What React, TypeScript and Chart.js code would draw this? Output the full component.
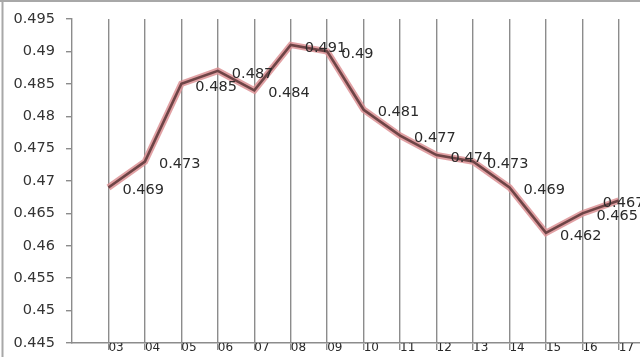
import React, { useEffect, useRef } from "react";
import { Chart, registerables } from "chart.js";

Chart.register(...registerables);

const xValues = [3, 4, 5, 6, 7, 8, 9, 10, 11, 12, 13, 14, 15, 16, 17];
const xLabels = ["03", "04", "05", "06", "07", "08", "09", "10", "11", "12", "13", "14", "15", "16", "17"];
const seriesValues = [0.469, 0.473, 0.485, 0.487, 0.484, 0.491, 0.49, 0.481, 0.477, 0.474, 0.473, 0.469, 0.462, 0.465, 0.467];
const yTickValues = [0.445, 0.45, 0.455, 0.46, 0.465, 0.47, 0.475, 0.48, 0.485, 0.49, 0.495];
const yTickLabels = ["0.445", "0.45", "0.455", "0.46", "0.465", "0.47", "0.475", "0.48", "0.485", "0.49", "0.495"];

const GRID = "#8c8c8c";

const framePlugin = {
  id: "frame",
  beforeDraw(chart: any) {
    const { ctx, width, height } = chart;
    ctx.save();
    ctx.fillStyle = "#ffffff";
    ctx.fillRect(0, 0, width, height);
    ctx.strokeStyle = "#a8a8a8";
    ctx.lineWidth = 2;
    ctx.beginPath();
    ctx.moveTo(0, 1);
    ctx.lineTo(width, 1);
    ctx.moveTo(2.5, 0);
    ctx.lineTo(2.5, height);
    ctx.stroke();
    ctx.restore();
  },
};

const valueLabelPlugin = {
  id: "valueLabels",
  afterDatasetsDraw(chart: any) {
    const { ctx } = chart;
    const meta = chart.getDatasetMeta(0);
    ctx.save();
    ctx.font = "14.5px 'DejaVu Sans'";
    ctx.fillStyle = "#2a2a2a";
    ctx.textBaseline = "middle";
    ctx.textAlign = "left";
    meta.data.forEach((pt: any, i: number) => {
      const v = seriesValues[i];
      const txt = String(v);
      let x = pt.x + 14;
      if (i === seriesValues.length - 1) x = pt.x - 16;
      ctx.fillText(txt, x, pt.y + 3);
    });
    ctx.restore();
  },
};

export default function App() {
  const ref = useRef<HTMLCanvasElement>(null);
  useEffect(() => {
    document.body.style.margin = "0";
    const data = xValues.map((x, i) => ({ x, y: seriesValues[i] }));
    const chart = new Chart(ref.current as HTMLCanvasElement, {
      type: "line",
      data: {
        datasets: [
          {
            data,
            borderColor: "#6e4446",
            borderWidth: 2.6,
            pointRadius: 0,
            tension: 0,
          },
          {
            data,
            borderColor: "rgba(220,145,148,0.85)",
            borderWidth: 6.5,
            pointRadius: 0,
            tension: 0,
          },
        ],
      },
      options: {
        animation: false,
        responsive: false,
        events: [],
        layout: { padding: { top: 19, right: 0, bottom: 0, left: 0 } },
        plugins: {
          legend: { display: false },
          tooltip: { enabled: false },
        },
        scales: {
          x: {
            type: "linear",
            min: 2,
            max: 17.58,
            afterBuildTicks: (scale: any) => {
              scale.ticks = xValues.map((v) => ({ value: v }));
            },
            afterFit: (scale: any) => {
              scale.height = 14;
              scale.paddingLeft = 0;
              scale.paddingRight = 0;
            },
            grid: {
              color: GRID,
              lineWidth: 1.4,
              drawTicks: true,
              tickLength: 7,
              tickColor: GRID,
            },
            border: { color: GRID, width: 1.4 },
            ticks: {
              align: "start",
              padding: -9,
              maxRotation: 0,
              autoSkip: false,
              color: "#2a2a2a",
              font: { family: "'DejaVu Sans'", size: 12 },
              callback: (v: any) => {
                const idx = xValues.indexOf(Number(v));
                return idx >= 0 ? xLabels[idx] : "";
              },
            },
          },
          y: {
            min: 0.445,
            max: 0.495,
            afterBuildTicks: (scale: any) => {
              scale.ticks = yTickValues.map((v) => ({ value: v }));
            },
            afterFit: (scale: any) => {
              scale.width = 72;
              scale.paddingTop = 0;
              scale.paddingBottom = 0;
            },
            grid: {
              drawOnChartArea: false,
              drawTicks: true,
              tickLength: 6,
              tickColor: GRID,
              lineWidth: 1.4,
            },
            border: { color: GRID, width: 1.4 },
            ticks: {
              padding: 11,
              color: "#333",
              font: { family: "'DejaVu Sans'", size: 14.5 },
              callback: (v: any) => {
                const idx = yTickValues.findIndex((t) => Math.abs(t - Number(v)) < 1e-9);
                return idx >= 0 ? yTickLabels[idx] : "";
              },
            },
          },
        },
      },
      plugins: [framePlugin, valueLabelPlugin],
    });
    return () => chart.destroy();
  }, []);
  return <canvas ref={ref} width={640} height={357} style={{ display: "block" }} />;
}
